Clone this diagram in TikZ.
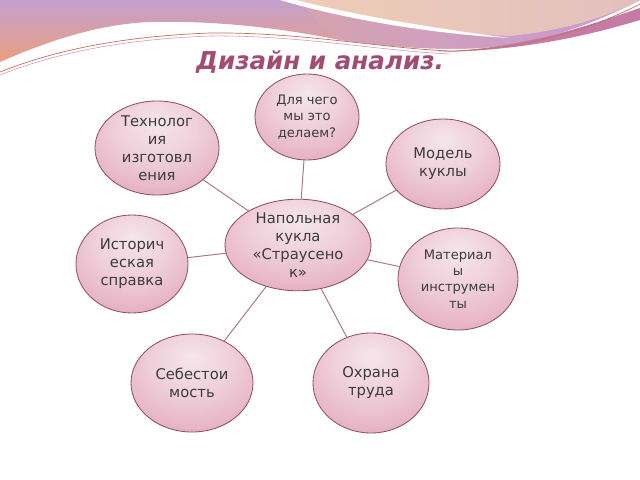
\documentclass[tikz,border=0pt]{standalone}
\usepackage{fontspec}
\setmainfont{DejaVu Sans}
\usetikzlibrary{shapes.geometric}
\definecolor{petaltop}{HTML}{F6E6EC}
\definecolor{petalmid}{HTML}{E9BACA}
\definecolor{petalside}{HTML}{DEA5B9}
\definecolor{petalbottom}{HTML}{CB7E9C}
\definecolor{petalrim}{HTML}{8E5068}
\definecolor{linkrose}{HTML}{A57A8C}
\definecolor{titlerose}{HTML}{A24C72}
\definecolor{textgrey}{HTML}{3C3C3C}
\definecolor{bandlilac}{HTML}{C4A0CE}
\definecolor{bandorange}{HTML}{EA9E80}
\definecolor{bandpeach}{HTML}{EFCDB7}
\definecolor{bandpurple}{HTML}{C699D6}
\definecolor{bandpink}{HTML}{D6A3AE}
\definecolor{ribbon}{HTML}{C57BA5}
\definecolor{wire}{HTML}{C2735C}
\pgfdeclareradialshading{petal}{\pgfpoint{0bp}{14bp}}{%
  color(0bp)=(petaltop); color(16bp)=(petaltop!50!petalmid); color(28bp)=(petalmid);
  color(38bp)=(petalside); color(48bp)=(petalbottom); color(70bp)=(petalbottom)}
\begin{document}
\begin{tikzpicture}[
                x=0.025cm, y=-0.025cm,
                petal/.style={ellipse, draw=petalrim, line width=0.6pt, shading=petal,
                  inner sep=0pt, align=center, text=textgrey,
                  font=\fontsize{10.5}{12.8}\selectfont},
                small/.style={font=\fontsize{9.3}{11.5}\selectfont},
                link/.style={draw=linkrose, line width=0.7pt}
            ]
                \useasboundingbox (0,0) rectangle (640,480);
                \fill[white] (0,0) rectangle (640,480);

                % top ribbon
                \shade[top color=bandlilac, bottom color=bandorange]
                  (0,0) -- (640,0) .. controls (600,20) and (550,42) .. (480,48)
                  .. controls (440,50) and (400,48) .. (340,40)
                  .. controls (300,32) and (230,20) .. (150,22)
                  .. controls (100,24) and (50,40) .. (0,62) -- cycle;
                \shade[left color=bandpink, right color=bandpurple]
                  (300,0) -- (640,0) .. controls (600,20) and (550,42) .. (480,48)
                  .. controls (440,50) and (400,48) .. (340,40)
                  .. controls (320,30) and (310,10) .. (300,0) -- cycle;
                \shade[left color=bandpeach, right color=bandpeach!70!bandlilac]
                  (288,0) -- (640,0) .. controls (610,15) and (570,30) .. (510,36)
                  .. controls (440,34) and (360,20) .. (288,0) -- cycle;
                \fill[white] (280,0) .. controls (340,18) and (430,34) .. (510,38)
                  .. controls (430,28) and (350,14) .. (296,0) -- cycle;
                \fill[ribbon] (430,52) .. controls (520,50) and (590,25) .. (640,8)
                  -- (640,20) .. controls (590,35) and (520,52) .. (430,52) -- cycle;
                \draw[wire, line width=0.5pt]
                  (0,72) .. controls (60,48) and (130,36) .. (210,33)
                  .. controls (300,32) and (380,48) .. (450,51)
                  .. controls (530,50) and (600,25) .. (640,4);
                \draw[ribbon!80!white, line width=0.4pt]
                  (0,75) .. controls (60,51) and (130,39) .. (210,36)
                  .. controls (300,35) and (380,51) .. (450,54);

                \node[text=titlerose, font=\fontsize{17.5}{20}\selectfont\bfseries\itshape]
                  (title) at (320,62) {Дизайн и анализ.};

                \node[petal, minimum width=3.65cm, minimum height=2.25cm]
                  (doll) at (298,245) {Напольная\\кукла\\«Страусено\\к»};
                \node[petal, small, minimum width=2.6cm, minimum height=2.15cm]
                  (why) at (307,117) {Для чего\\мы это\\делаем?};
                \node[petal, minimum width=3.1cm, minimum height=2.35cm]
                  (tech) at (157,148) {Технолог\\ия\\изготовл\\ения};
                \node[petal, minimum width=2.85cm, minimum height=2.25cm]
                  (model) at (443,164) {Модель\\куклы};
                \node[petal, minimum width=2.8cm, minimum height=2.45cm]
                  (history) at (132,264) {Историч\\еская\\справка};
                \node[petal, small, minimum width=3.0cm, minimum height=2.55cm]
                  (tools) at (458,279) {Материал\\ы\\инструмен\\ты};
                \node[petal, minimum width=3.05cm, minimum height=2.45cm]
                  (cost) at (192,383) {Себестои\\мость};
                \node[petal, minimum width=2.9cm, minimum height=2.5cm]
                  (safety) at (371,383) {Охрана\\труда};

                \foreach \leaf in {why,tech,model,history,tools,cost,safety}
                  \draw[link] (doll) -- (\leaf);
            \end{tikzpicture}
\end{document}
